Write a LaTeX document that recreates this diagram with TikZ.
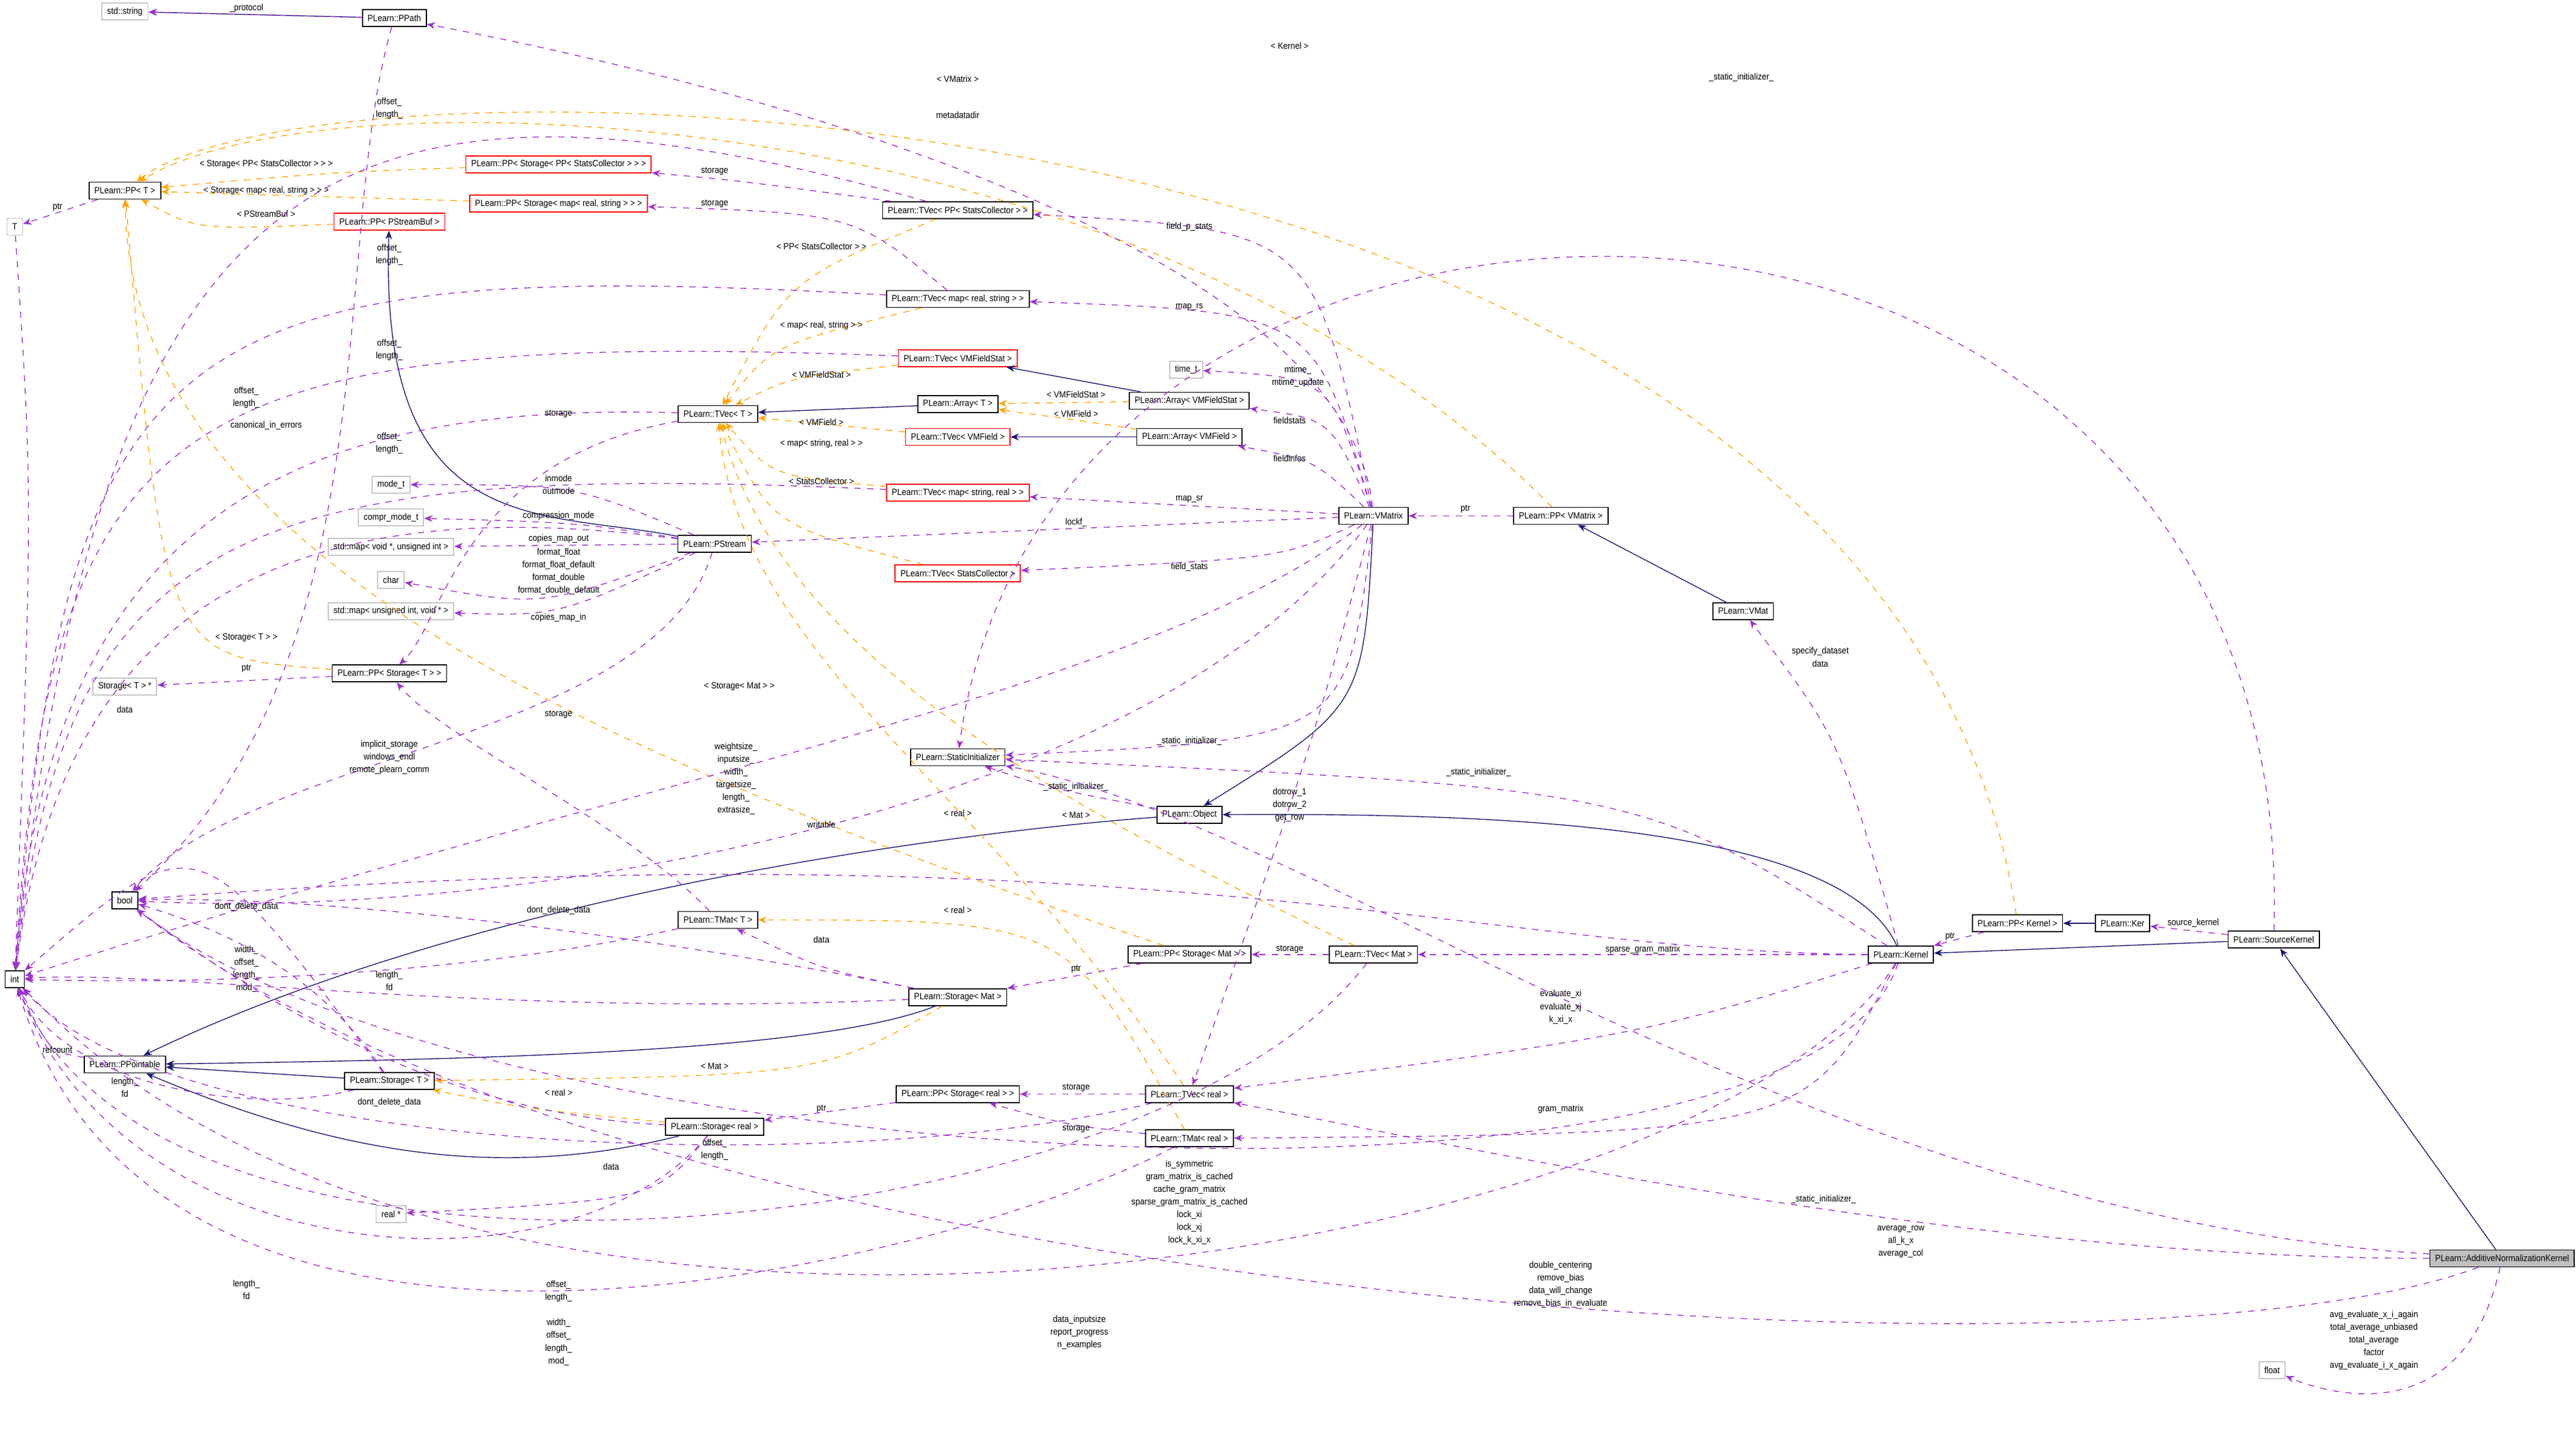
\documentclass[tikz,border=0pt]{standalone}
\usepackage{fontspec}
\setmainfont[FakeStretch=0.9]{Liberation Sans}
\usetikzlibrary{arrows.meta}
\definecolor{pur}{HTML}{9A32CD}
\definecolor{nav}{HTML}{191970}
\definecolor{ora}{HTML}{FFA500}
\tikzset{
 every node/.style={font=\fontsize{4.3}{5.6}\selectfont},
 bx/.style={draw=black,line width=0.5pt,fill=white,minimum height=0.28cm,inner xsep=2.5pt,inner ysep=0.5pt},
 gbx/.style={bx,draw=gray!45},
 rbx/.style={bx,draw=red},
 abx/.style={bx,fill=gray!50},
 lab/.style={align=center,inner sep=0pt,font=\fontsize{4.3}{6}\selectfont},
 pe/.style={draw=pur,dashed,line width=0.4pt,-{Stealth[length=4pt,width=3.2pt]}},
 oe/.style={draw=ora,dashed,line width=0.4pt,-{Stealth[length=4pt,width=3.2pt]}},
 ne/.style={draw=nav,line width=0.4pt,-{Stealth[length=4pt,width=3.2pt]}},
}
\begin{document}
\begin{tikzpicture}[x=0.02728cm,y=-0.02728cm]
\useasboundingbox (0,0) rectangle (1568,880);
% nodes
\node[gbx] (str) at (76,7) {std::string};
\node[bx] (ppath) at (240,11) {PLearn::PPath};
\node[bx] (ppt) at (76,116) {PLearn::PP< T >};
\node[gbx] (T) at (9,138) {T};
\node[rbx] (ppsps) at (340,100) {PLearn::PP< Storage< PP< StatsCollector > > >};
\node[rbx] (ppsmap) at (340,124) {PLearn::PP< Storage< map< real, string > > >};
\node[rbx] (ppbuf) at (237,135) {PLearn::PP< PStreamBuf >};
\node[bx] (tvpsc) at (583,128) {PLearn::TVec< PP< StatsCollector > >};
\node[bx] (tvmrs) at (583,182) {PLearn::TVec< map< real, string > >};
\node[gbx] (timet) at (722,225) {time\_t};
\node[rbx] (tvvfs) at (583,218) {PLearn::TVec< VMFieldStat >};
\node[bx] (arrt) at (583,246) {PLearn::Array< T >};
\node[bx] (arrvfs) at (724,244) {PLearn::Array< VMFieldStat >};
\node[bx] (tvt) at (437,252) {PLearn::TVec< T >};
\node[rbx] (tvvf) at (583,266) {PLearn::TVec< VMField >};
\node[bx] (arrvf) at (724,266) {PLearn::Array< VMField >};
\node[gbx] (modet) at (238,295) {mode\_t};
\node[gbx] (comprt) at (238,315) {compr\_mode\_t};
\node[gbx] (mapvu) at (238,333) {std::map< void *, unsigned int >};
\node[bx] (pstream) at (435,331) {PLearn::PStream};
\node[rbx] (tvmsr) at (583,300) {PLearn::TVec< map< string, real > >};
\node[bx] (vmatrix) at (836,314) {PLearn::VMatrix};
\node[bx] (ppvm) at (950,314) {PLearn::PP< VMatrix >};
\node[gbx] (char) at (238,353) {char};
\node[gbx] (mapuv) at (238,372) {std::map< unsigned int, void * >};
\node[rbx] (tvsc) at (583,349) {PLearn::TVec< StatsCollector >};
\node[bx] (vmat) at (1061,372) {PLearn::VMat};
\node[gbx] (stptr) at (76,418) {Storage< T > *};
\node[bx] (ppst) at (237,410) {PLearn::PP< Storage< T > >};
\node[bx] (sinit) at (583,461) {PLearn::StaticInitializer};
\node[bx] (object) at (724,496) {PLearn::Object};
\node[bx] (bool) at (76,548) {bool};
\node[bx] (tmatt) at (437,560) {PLearn::TMat< T >};
\node[bx] (int) at (9,596) {int};
\node[bx] (stmat) at (583,607) {PLearn::Storage< Mat >};
\node[bx] (ppstmat) at (724,581) {PLearn::PP< Storage< Mat > >};
\node[bx] (tvmat) at (836,581) {PLearn::TVec< Mat >};
\node[bx] (kernel) at (1157,581) {PLearn::Kernel};
\node[bx] (ppker) at (1228,562) {PLearn::PP< Kernel >};
\node[bx] (ker) at (1292,562) {PLearn::Ker};
\node[bx] (srck) at (1384,572) {PLearn::SourceKernel};
\node[bx] (ppoint) at (76,648) {PLearn::PPointable};
\node[bx] (stt) at (237,658) {PLearn::Storage< T >};
\node[bx] (ppstr) at (583,666) {PLearn::PP< Storage< real > >};
\node[bx] (tvr) at (724,666) {PLearn::TVec< real >};
\node[bx] (str2) at (435,686) {PLearn::Storage< real >};
\node[bx] (tmr) at (724,693) {PLearn::TMat< real >};
\node[gbx] (realp) at (238,739) {real *};
\node[abx] (ank) at (1523,766) {PLearn::AdditiveNormalizationKernel};
\node[gbx] (float) at (1383,834) {float};
% inheritance
\draw[ne] (ppath) -- (str);
\draw[ne] (pstream) .. controls (330,310) and (230,330) .. (ppbuf);
\draw[ne] (arrvfs) -- (tvvfs);
\draw[ne] (arrt) -- (tvt);
\draw[ne] (arrvf) -- (tvvf);
\draw[ne] (vmatrix) .. controls (830,430) .. (object);
\draw[ne] (vmat) -- (ppvm);
\draw[ne] (kernel) .. controls (1120,500) and (900,495) .. (object);
\draw[ne] (ker) -- (ppker);
\draw[ne] (srck) -- (kernel);
\draw[ne] (ank) -- (srck);
\draw[ne] (object) .. controls (600,505) and (300,540) .. (ppoint);
\draw[ne] (stmat) .. controls (500,640) and (300,645) .. (ppoint);
\draw[ne] (stt) -- (ppoint);
\draw[ne] (str2) .. controls (300,720) and (200,700) .. (ppoint);
% template edges
\draw[oe] (ppsps) .. controls (200,105) .. (ppt);
\node[lab] (l1) at (162,100) {< Storage< PP< StatsCollector > > >};
\draw[oe] (ppsmap) -- (ppt);
\node[lab] (l2) at (162,116) {< Storage< map< real, string > > >};
\draw[oe] (ppbuf) .. controls (120,140) .. (ppt);
\node[lab] (l3) at (162,130) {< PStreamBuf >};
\draw[oe] (ppvm) .. controls (700,60) and (200,40) .. (ppt);
\node[lab] (l4) at (583,48) {< VMatrix >};
\draw[oe] (ppker) .. controls (1150,40) and (200,20) .. (ppt);
\node[lab] (l5) at (785,28) {< Kernel >};
\draw[oe] (ppst) .. controls (100,400) .. (ppt);
\node[lab] (l6) at (150,388) {< Storage< T > >};
\draw[oe] (ppstmat) .. controls (400,470) and (80,350) .. (ppt);
\node[lab] (l7) at (450,418) {< Storage< Mat > >};
\draw[oe] (tvpsc) .. controls (480,170) .. (tvt);
\node[lab] (l8) at (500,150) {< PP< StatsCollector > >};
\draw[oe] (tvmrs) .. controls (470,210) .. (tvt);
\node[lab] (l9) at (500,198) {< map< real, string > >};
\draw[oe] (tvvfs) .. controls (480,230) .. (tvt);
\node[lab] (l10) at (500,228) {< VMFieldStat >};
\draw[oe] (tvvf) -- (tvt);
\node[lab] (l11) at (500,257) {< VMField >};
\draw[oe] (tvmsr) .. controls (470,290) .. (tvt);
\node[lab] (l12) at (500,270) {< map< string, real > >};
\draw[oe] (tvsc) .. controls (470,320) .. (tvt);
\node[lab] (l13) at (500,293) {< StatsCollector >};
\draw[oe] (tvmat) .. controls (600,470) and (470,380) .. (tvt);
\node[lab] (l14) at (655,496) {< Mat >};
\draw[oe] (tvr) .. controls (600,480) and (450,400) .. (tvt);
\node[lab] (l15) at (583,495) {< real >};
\draw[oe] (arrvfs) -- (arrt);
\node[lab] (l16) at (655,240) {< VMFieldStat >};
\draw[oe] (arrvf) .. controls (650,255) .. (arrt);
\node[lab] (l17) at (655,252) {< VMField >};
\draw[oe] (tmr) .. controls (650,560) .. (tmatt);
\node[lab] (l18) at (583,554) {< real >};
\draw[oe] (stmat) .. controls (500,655) .. (stt);
\node[lab] (l19) at (435,649) {< Mat >};
\draw[oe] (str2) .. controls (320,675) .. (stt);
\node[lab] (l20) at (340,665) {< real >};
% member edges
\draw[pe] (ppath) -- (str);
\node[lab] (m1) at (150,5) {\_protocol};
\draw[pe] (ppath) .. controls (200,150) and (240,400) .. (bool);
\draw[pe] (vmatrix) .. controls (820,160) and (500,60) .. (ppath);
\node[lab] (m2) at (583,70) {metadatadir};
\draw[pe] (ppt) -- (T);
\node[lab] (m3) at (35,126) {ptr};
\draw[pe] (tvpsc) .. controls (200,20) and (60,100) .. (int);
\node[lab] (m6) at (237,66) {offset\_\\length\_};
\draw[pe] (tvpsc) .. controls (450,110) .. (ppsps);
\node[lab] (m4) at (435,104) {storage};
\draw[pe] (tvmrs) .. controls (520,130) .. (ppsmap);
\node[lab] (m5) at (435,124) {storage};
\draw[pe] (tvmrs) .. controls (100,155) and (40,200) .. (int);
\node[lab] (m7) at (237,155) {offset\_\\length\_};
\draw[pe] (tvvfs) .. controls (100,200) and (30,250) .. (int);
\node[lab] (m8) at (237,213) {offset\_\\length\_};
\draw[pe] (tvt) .. controls (200,245) and (30,300) .. (int);
\node[lab] (m10) at (150,242) {offset\_\\length\_};
\draw[pe] (tvmsr) .. controls (150,280) and (40,320) .. (int);
\node[lab] (m11) at (237,270) {offset\_\\length\_};
\draw[pe] (tvt) .. controls (280,280) and (270,380) .. (ppst);
\node[lab] (m12) at (340,252) {storage};
\node[lab] (m13) at (162,259) {canonical\_in\_errors};
\draw[pe] (pstream) .. controls (200,300) and (40,350) .. (int);
\draw[pe] (vmatrix) .. controls (800,140) .. (tvpsc);
\node[lab] (m14) at (724,138) {field\_p\_stats};
\draw[pe] (vmatrix) .. controls (800,190) .. (tvmrs);
\node[lab] (m15) at (724,187) {map\_rs};
\draw[pe] (vmatrix) .. controls (810,230) .. (timet);
\node[lab] (m16) at (790,229) {mtime\_\\mtime\_update};
\draw[pe] (vmatrix) .. controls (810,255) .. (arrvfs);
\node[lab] (m17) at (785,256) {fieldstats};
\draw[pe] (vmatrix) .. controls (800,280) .. (arrvf);
\node[lab] (m18) at (785,279) {fieldinfos};
\draw[pe] (vmatrix) -- (tvmsr);
\node[lab] (m19) at (724,304) {map\_sr};
\draw[pe] (vmatrix) -- (pstream);
\node[lab] (m20) at (655,318) {lockf\_};
\draw[pe] (vmatrix) .. controls (780,340) .. (tvsc);
\node[lab] (m21) at (724,345) {field\_stats};
\draw[pe] (vmatrix) .. controls (700,420) and (400,470) .. (int);
\node[lab] (m22) at (448,474) {weightsize\_\\inputsize\_\\width\_\\targetsize\_\\length\_\\extrasize\_};
\draw[pe] (vmatrix) .. controls (820,450) .. (sinit);
\node[lab] (m23) at (724,451) {\_static\_initializer\_};
\draw[pe] (vmatrix) .. controls (700,500) and (300,560) .. (bool);
\node[lab] (m24) at (500,502) {writable};
\draw[pe] (vmatrix) .. controls (800,450) .. (tvr);
\draw[pe] (pstream) .. controls (350,295) .. (modet);
\node[lab] (m25) at (340,295) {inmode\\outmode};
\draw[pe] (pstream) .. controls (350,318) .. (comprt);
\node[lab] (m26) at (340,314) {compression\_mode};
\draw[pe] (pstream) -- (mapvu);
\node[lab] (m27) at (340,328) {copies\_map\_out};
\draw[pe] (pstream) .. controls (330,370) .. (char);
\node[lab] (m28) at (340,348) {format\_float\\format\_float\_default\\format\_double\\format\_double\_default};
\draw[pe] (pstream) .. controls (340,375) .. (mapuv);
\node[lab] (m29) at (340,376) {copies\_map\_in};
\draw[pe] (pstream) .. controls (400,450) and (150,460) .. (bool);
\node[lab] (m30) at (237,461) {implicit\_storage\\windows\_endl\\remote\_plearn\_comm};
\draw[pe] (ppst) -- (stptr);
\node[lab] (m31) at (150,407) {ptr};
\draw[pe] (object) .. controls (640,480) .. (sinit);
\node[lab] (m32) at (655,479) {\_static\_initializer\_};
\draw[pe] (kernel) .. controls (1000,480) .. (sinit);
\node[lab] (m33) at (900,470) {\_static\_initializer\_};
\draw[pe] (srck) .. controls (1400,40) and (640,40) .. (sinit);
\node[lab] (m34) at (1060,47) {\_static\_initializer\_};
\draw[pe] (ank) .. controls (1100,740) and (800,500) .. (sinit);
\node[lab] (m35) at (1110,730) {\_static\_initializer\_};
\node[lab] (m36) at (785,490) {dotrow\_1\\dotrow\_2\\get\_row};
\draw[pe] (kernel) .. controls (900,580) and (700,500) .. (bool);
\draw[pe] (tmatt) .. controls (300,590) and (150,600) .. (int);
\node[lab] (m37) at (150,590) {width\_\\offset\_\\length\_\\mod\_};
\draw[pe] (tmatt) .. controls (380,500) and (270,450) .. (ppst);
\node[lab] (m38) at (340,435) {storage};
\draw[pe] (stmat) .. controls (500,590) .. (tmatt);
\node[lab] (m39) at (500,572) {data};
\draw[pe] (stmat) .. controls (300,620) and (100,590) .. (int);
\node[lab] (m40) at (237,597) {length\_\\fd};
\draw[pe] (stmat) .. controls (400,570) and (200,545) .. (bool);
\node[lab] (m41) at (340,554) {dont\_delete\_data};
\draw[pe] (ppstmat) .. controls (650,595) .. (stmat);
\node[lab] (m42) at (655,590) {ptr};
\draw[pe] (tvmat) -- (ppstmat);
\node[lab] (m43) at (785,578) {storage};
\draw[pe] (kernel) -- (tvmat);
\node[lab] (m44) at (1000,578) {sparse\_gram\_matrix};
\draw[pe] (kernel) .. controls (1000,630) .. (tvr);
\node[lab] (m45) at (950,613) {evaluate\_xi\\evaluate\_xj\\k\_xi\_x};
\draw[pe] (kernel) .. controls (1100,690) .. (tmr);
\node[lab] (m46) at (950,675) {gram\_matrix};
\draw[pe] (kernel) .. controls (1120,450) .. (vmat);
\node[lab] (m47) at (1108,400) {specify\_dataset\\data};
\draw[pe] (kernel) .. controls (1100,760) and (300,720) .. (bool);
\node[lab] (m48) at (724,732) {is\_symmetric\\gram\_matrix\_is\_cached\\cache\_gram\_matrix\\sparse\_gram\_matrix\_is\_cached\\lock\_xi\\lock\_xj\\lock\_k\_xi\_x};
\draw[pe] (kernel) .. controls (1050,760) and (300,900) .. (int);
\node[lab] (m49) at (657,811) {data\_inputsize\\report\_progress\\n\_examples};
\draw[pe] (srck) -- (ker);
\node[lab] (m50) at (1335,562) {source\_kernel};
\draw[pe] (ppker) -- (kernel);
\node[lab] (m51) at (1187,570) {ptr};
\draw[pe] (ppvm) -- (vmatrix);
\node[lab] (m52) at (892,310) {ptr};
\draw[pe] (stt) .. controls (150,680) and (40,660) .. (int);
\node[lab] (m53) at (76,662) {length\_\\fd};
\draw[pe] (stt) .. controls (200,600) and (150,570) .. (bool);
\node[lab] (m54) at (150,552) {dont\_delete\_data};
\draw[pe] (ppoint) .. controls (30,640) .. (int);
\node[lab] (m55) at (35,639) {refcount};
\draw[pe] (str2) .. controls (400,730) .. (realp);
\node[lab] (m56) at (372,710) {data};
\draw[pe] (str2) .. controls (350,790) and (80,780) .. (int);
\node[lab] (m57) at (150,785) {length\_\\fd};
\draw[pe] (str2) .. controls (300,680) and (200,640) .. (bool);
\node[lab] (m58) at (237,671) {dont\_delete\_data};
\draw[pe] (ppstr) -- (str2);
\node[lab] (m59) at (500,675) {ptr};
\draw[pe] (tvr) -- (ppstr);
\node[lab] (m60) at (655,662) {storage};
\draw[pe] (tmr) .. controls (650,685) .. (ppstr);
\node[lab] (m61) at (655,687) {storage};
\draw[pe] (tvr) .. controls (500,720) and (100,700) .. (int);
\node[lab] (m62) at (435,700) {offset\_\\length\_};
\draw[pe] (tmr) .. controls (600,760) and (100,900) .. (int);
\node[lab] (m63) at (340,817) {width\_\\offset\_\\length\_\\mod\_};
\draw[pe] (tvmat) .. controls (700,760) and (100,820) .. (int);
\node[lab] (m64) at (340,786) {offset\_\\length\_};
\draw[pe] (ank) .. controls (1200,766) and (900,700) .. (tvr);
\node[lab] (m65) at (1157,756) {average\_row\\all\_k\_x\\average\_col};
\draw[pe] (ank) .. controls (1300,850) and (400,800) .. (bool);
\node[lab] (m66) at (950,782) {double\_centering\\remove\_bias\\data\_will\_change\\remove\_bias\_in\_evaluate};
\draw[pe] (ank) .. controls (1500,870) and (1420,850) .. (float);
\node[lab] (m67) at (1445,816) {avg\_evaluate\_x\_i\_again\\total\_average\_unbiased\\total\_average\\factor\\avg\_evaluate\_i\_x\_again};
\draw[pe] (T) .. controls (20,300) .. (int);
\draw[pe] (stt) .. controls (120,500) .. (int);
\node[lab] (m68) at (76,432) {data};
\end{tikzpicture}
\end{document}
